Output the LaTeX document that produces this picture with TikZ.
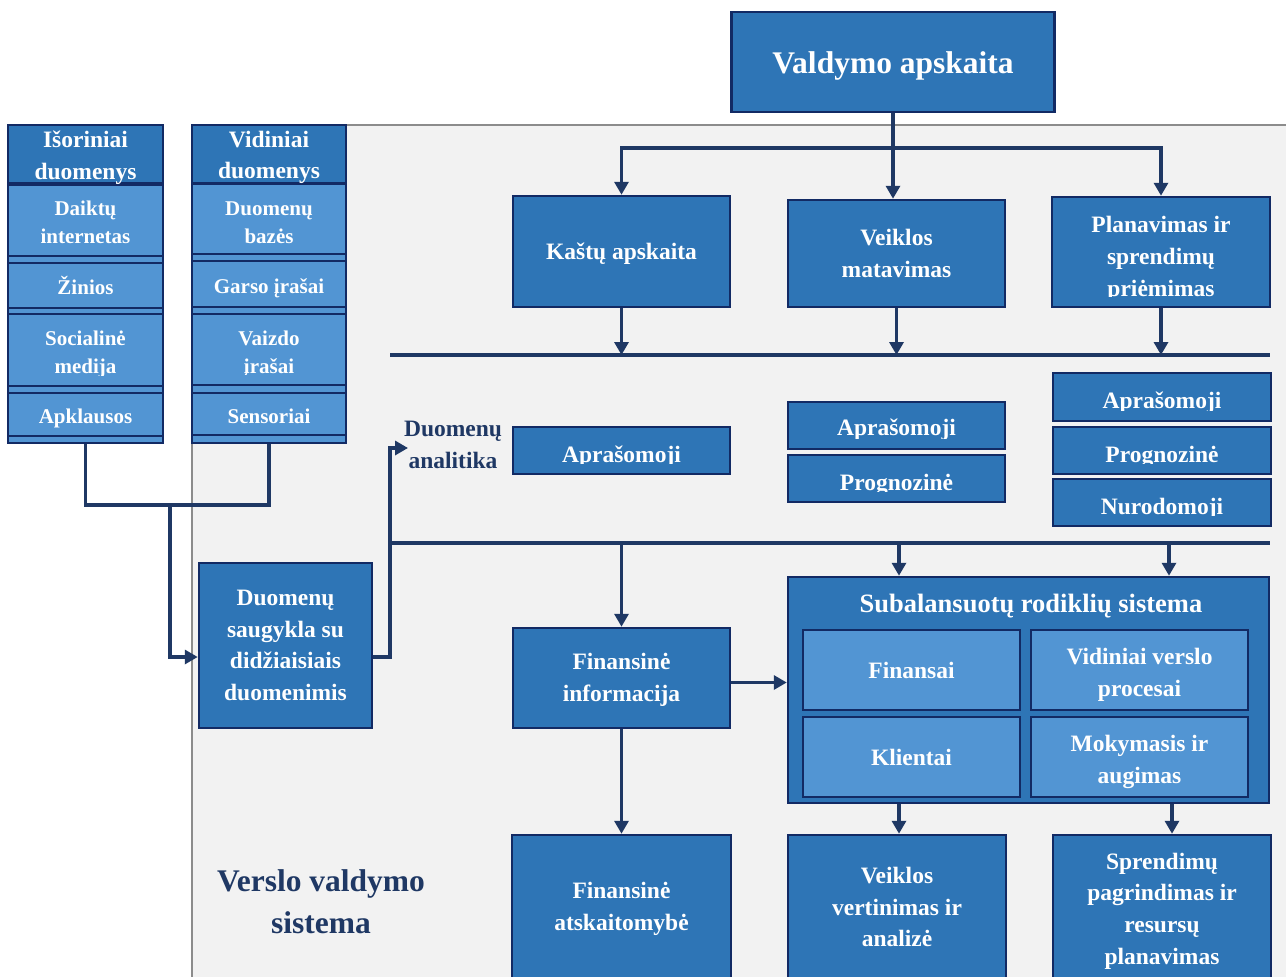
\documentclass[tikz,border=0pt]{standalone}
\usepackage{fontspec}
\setmainfont{Liberation Serif}
\usetikzlibrary{arrows.meta,calc}
\definecolor{boxdark}{RGB}{46,117,182}
\definecolor{boxlight}{RGB}{82,149,211}
\definecolor{navy}{RGB}{18,42,100}
\definecolor{conncol}{RGB}{31,56,100}
\definecolor{panelfill}{RGB}{242,242,242}
\definecolor{panelline}{RGB}{140,140,140}
\tikzset{
  sz/.style 2 args={minimum width=#1pt, minimum height=#2pt},
  box/.style={draw=navy, line width=2.5pt, fill=boxdark, inner sep=0pt},
  lbox/.style={box, fill=boxlight},
  colbox/.style={draw=navy, line width=2.5pt, fill=boxlight, inner sep=0pt},
  btxt/.style={text=white, align=center, inner sep=0pt, font=\bfseries\fontsize{23.5}{31.7}\selectfont},
  itxt/.style={font=\bfseries\fontsize{21}{28}\selectfont},
  bigfont/.style={font=\bfseries\fontsize{31.5}{42}\selectfont},
  lbl/.style={text=conncol, align=center, inner sep=0pt, font=\bfseries\fontsize{23.5}{32}\selectfont},
  conn/.style={draw=conncol, line width=3.5pt},
  arr/.style={conn, -{Triangle[length=13pt,width=14pt]}},
  panel/.style={fill=panelfill, draw=panelline, line width=2pt}
}
% text of a box, shifted down by #3 pt
\newcommand\btext[4][]{\node[btxt,#1] (#2-t) at ([yshift=-#3pt]#2.center) {#4};}
% same, clipped a little above the bottom of the box
\newcommand\ctext[4][]{\begin{scope}\clip (#2.north west) rectangle ([yshift=11.5pt]#2.south east);\btext[#1]{#2}{#3}{#4}\end{scope}}
\begin{document}
\begin{tikzpicture}[x=1pt,y=-1pt]
\clip (0,0) rectangle (1286,977);
\fill[white] (0,0) rectangle (1286,977);
% background panel
\draw[panel] (192,125) rectangle (1300,1000);

% left columns
\node[colbox, sz={155}{318}] (isorcol) at (85.5,284) {};
\node[box, sz={155}{58}] (isorh) at (85.5,154) {};
\node[lbox, sz={155}{71}] (daiktu) at (85.5,220.5) {};
\node[lbox, sz={155}{45}] (zinios) at (85.5,285.5) {};
\node[lbox, sz={155}{72}] (social) at (85.5,350) {};
\node[lbox, sz={155}{43}] (apkl) at (85.5,414.5) {};
\btext{isorh}{3.5}{Išoriniai\\duomenys}
\btext[itxt]{daiktu}{2}{Daiktų\\internetas}
\btext[itxt]{zinios}{0}{Žinios}
\ctext[itxt]{social}{4}{Socialinė\\medija}
\btext[itxt]{apkl}{4}{Apklausos}

\node[colbox, sz={154}{318}] (vidcol) at (269,284) {};
\node[box, sz={154}{58}] (vidh) at (269,154) {};
\node[lbox, sz={154}{70}] (dbaz) at (269,219) {};
\node[lbox, sz={154}{46}] (garso) at (269,284) {};
\node[lbox, sz={154}{71}] (vaizdo) at (269,349.5) {};
\node[lbox, sz={154}{42}] (sens) at (269,414) {};
\btext{vidh}{3.5}{Vidiniai\\duomenys}
\btext[itxt]{dbaz}{4}{Duomenų\\bazės}
\btext[itxt]{garso}{4}{Garso įrašai}
\ctext[itxt]{vaizdo}{5}{Vaizdo\\įrašai}
\btext[itxt]{sens}{2}{Sensoriai}

% storage
\node[box, sz={173}{165}] (storage) at (285.5,645.5) {};
\btext{storage}{0}{Duomenų\\saugykla su\\didžiaisiais\\duomenimis}

% title and top row
\node[box, sz={323}{100}] (title) at (893,62) {};
\btext[bigfont]{title}{4}{Valdymo apskaita}
\node[box, sz={217}{111}] (kastu) at (621.5,251.5) {};
\node[box, sz={217}{107}] (veiklos) at (896.5,253.5) {};
\node[box, sz={218}{110}] (plan) at (1161,252) {};
\btext{kastu}{2}{Kaštų apskaita}
\btext{veiklos}{0}{Veiklos\\matavimas}
\ctext{plan}{7}{Planavimas ir\\sprendimų\\priėmimas}

% analytics row
\node[lbl] (dalabel) at (453,445) {Duomenų\\analitika};
\node[box, sz={217}{47}] (a1) at (621.5,450.5) {};
\node[box, sz={217}{47}] (a2) at (896.5,425.5) {};
\node[box, sz={217}{47}] (p2) at (896.5,478.5) {};
\node[box, sz={218}{48}] (a3) at (1162,397) {};
\node[box, sz={218}{47}] (p3) at (1162,450.5) {};
\node[box, sz={218}{47}] (n3) at (1162,502.5) {};
\ctext{a1}{6}{Aprašomoji}
\ctext{a2}{4}{Aprašomoji}
\ctext{p2}{6}{Prognozinė}
\ctext{a3}{6}{Aprašomoji}
\ctext{p3}{6}{Prognozinė}
\ctext{n3}{6}{Nurodomoji}

% lower section
\node[box, sz={217}{100}] (fininfo) at (621.5,678) {};
\btext{fininfo}{2}{Finansinė\\informacija}
\node[box, sz={481}{226}] (bsc) at (1028.5,690) {};
\node[btxt, font=\bfseries\fontsize{26.5}{32}\selectfont] (bsctitle) at (1031,606) {Subalansuotų rodiklių sistema};
\node[lbox, sz={217}{80}] (fin) at (911.5,670) {};
\node[lbox, sz={217}{80}] (vid) at (1139.5,670) {};
\node[lbox, sz={217}{80}] (kli) at (911.5,757) {};
\node[lbox, sz={217}{80}] (mok) at (1139.5,757) {};
\btext{fin}{0}{Finansai}
\btext{vid}{5}{Vidiniai verslo\\procesai}
\btext{kli}{0}{Klientai}
\btext{mok}{5}{Mokymasis ir\\augimas}

% bottom row
\node[box, sz={219}{144}] (fa) at (621.5,907) {};
\node[box, sz={218}{144}] (ve) at (897,907) {};
\node[box, sz={218}{144}] (sp) at (1162,907) {};
\btext{fa}{2}{Finansinė\\atskaitomybė}
\btext{ve}{0}{Veiklos\\vertinimas ir\\analizė}
\btext{sp}{4}{Sprendimų\\pagrindimas ir\\resursų\\planavimas}

\node[lbl, bigfont] (verslo) at (321,902) {Verslo valdymo\\sistema};

% coordinates
\coordinate (jn) at (170,505);
\coordinate (la) at (390,448);
\coordinate (lt) at (408,448);
\coordinate (tb) at (893,148);
\coordinate (b1l) at (390,355);
\coordinate (b1r) at (1270,355);
\coordinate (b2l) at (390,543);
\coordinate (b2r) at (1270,543);
\coordinate (q1) at (899,543);
\coordinate (q2) at (1169,543);
\coordinate (q3) at (899,0);
\coordinate (q4) at (1172,0);
\coordinate (se) at ([yshift=-11.5pt]storage.east);
\coordinate (sw) at ([yshift=-11.5pt]storage.west);
\coordinate (fe) at ([yshift=-4.5pt]fininfo.east);

% left connectors
\draw[conn] (isorcol.south) |- (jn) -| (vidcol.south);
\draw[arr] (jn) |- (sw);
\draw[arr] (se) -| (la) -- (lt);

% bars
\draw[conn] (b1l) -- (b1r);
\draw[conn] (b2l) -- (b2r);

% title connectors
\draw[conn] (title.south) -- (tb);
\draw[arr] (tb) -- (tb |- veiklos.north);
\draw[arr] (tb) -| (kastu.north);
\draw[arr] (tb) -| (plan.north);

% top row to bar
\draw[arr] (kastu.south) -- (kastu.south |- b1l);
\draw[arr] (veiklos.south) -- (veiklos.south |- b1l);
\draw[arr] (plan.south) -- (plan.south |- b1l);

% lower bar arrows
\draw[arr] (fininfo.north |- b2l) -- (fininfo.north);
\draw[arr] (q1) -- (q1 |- bsc.north);
\draw[arr] (q2) -- (q2 |- bsc.north);
\draw[arr] (fe) -- (fe -| bsc.west);
\draw[arr] (fininfo.south) -- (fa.north);
\draw[arr] (q3 |- bsc.south) -- (q3 |- ve.north);
\draw[arr] (q4 |- bsc.south) -- (q4 |- sp.north);
\end{tikzpicture}
\end{document}
